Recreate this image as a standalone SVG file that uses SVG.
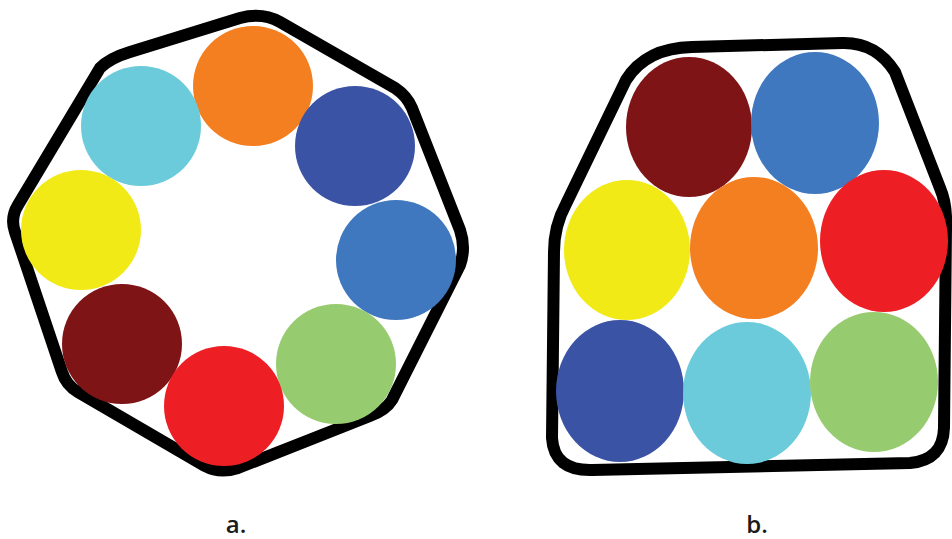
<svg xmlns="http://www.w3.org/2000/svg" width="952" height="539" viewBox="0 0 952 539">
<style>
.outline{fill:none;stroke:#000;stroke-width:12;stroke-linejoin:round}
.lbl{font-family:"Open Sans","Liberation Sans",Arial,sans-serif;font-weight:600;font-size:24px;fill:#1a1a1a;text-anchor:middle}
.or{fill:#F47F20}.cy{fill:#6BCBDB}.db{fill:#3A53A4}.ye{fill:#F2EA17}.mb{fill:#3F78BF}.dr{fill:#7F1416}.gr{fill:#97CB70}.rd{fill:#ED1F24}
</style>
<rect width="952" height="539" fill="#fff"/>
<g id="panel-a">
<path class="outline" d="M100,68 Q110,58 130,52 L240,18 Q262,12 280,22 L395,88 Q407,96 412,108 L460,230 Q466,248 460,265 L392,400 Q386,410 370,416 L238,468 Q220,474 205,466 L78,392 Q66,385 62,372 L15,232 Q10,218 18,205 Z"/>
<circle class="or" cx="253" cy="86" r="60"/>
<circle class="cy" cx="141" cy="126" r="60"/>
<circle class="db" cx="355" cy="146" r="60"/>
<circle class="ye" cx="81" cy="230" r="60"/>
<circle class="mb" cx="396" cy="260" r="60"/>
<circle class="dr" cx="122" cy="344" r="60"/>
<circle class="gr" cx="336" cy="364" r="60"/>
<circle class="rd" cx="224" cy="406" r="60"/>
</g>
<g id="panel-b">
<path class="outline" d="M626,80 Q646,48 692,47 L842,43 Q876,42 895,72 L940,188 Q947,204 946,228 L944,428 Q943,460 910,463 L592,470 Q554,471 552,438 L554,252 Q554,226 566,204 Z"/>
<ellipse class="dr" cx="689" cy="127" rx="63" ry="70"/>
<ellipse class="mb" cx="815" cy="123" rx="64" ry="71"/>
<ellipse class="ye" cx="627" cy="250" rx="63" ry="70"/>
<ellipse class="or" cx="754" cy="248" rx="64" ry="71"/>
<ellipse class="rd" cx="884" cy="241" rx="64" ry="71"/>
<ellipse class="db" cx="620" cy="391" rx="64" ry="71"/>
<ellipse class="cy" cx="747" cy="393" rx="64" ry="71"/>
<ellipse class="gr" cx="874" cy="382" rx="64" ry="70"/>
</g>
<text class="lbl" x="236" y="533">a.</text>
<text class="lbl" x="757" y="533">b.</text>
</svg>
